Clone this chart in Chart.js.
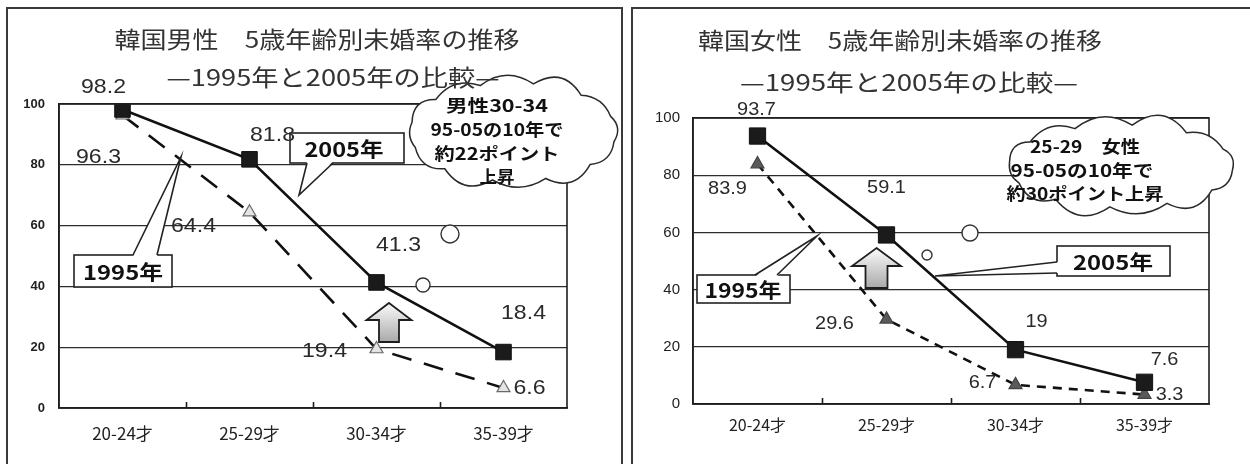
<!DOCTYPE html>
<html>
<head>
<meta charset="utf-8">
<script src="https://cdn.jsdelivr.net/npm/chart.js@4/dist/chart.umd.min.js"></script>
<style>
  html, body { margin: 0; padding: 0; background: #fff; }
  body { position: relative; width: 1250px; height: 464px; overflow: hidden; }
  .panel { position: absolute; border: 2px solid #3a3a3a; border-bottom: none; }
  #panelMale { left: 6px; top: 7px; width: 613px; height: 460px; }
  #panelFemale { left: 631px; top: 7px; width: 640px; height: 460px; border-right: none; }
  canvas { position: absolute; left: 0; top: 0; }
</style>
</head>
<body>
<div class="panel" id="panelMale"></div>
<div class="panel" id="panelFemale"></div>
<canvas id="male" width="1250" height="464"></canvas>
<canvas id="female" width="1250" height="464"></canvas>
<script>
// Age groups on the category axis
const ageGroups = ['20-24才', '25-29才', '30-34才', '35-39才'];
// Value axis ticks (percent never married)
const yTickValues = [0, 20, 40, 60, 80, 100];

// Korea, men: never-married rate by 5-year age group
const male2005 = [98.2, 81.8, 41.3, 18.4];
const male1995 = [96.3, 64.4, 19.4, 6.6];

// Korea, women: never-married rate by 5-year age group
const female2005 = [93.7, 59.1, 19, 7.6];
const female1995 = [83.9, 29.6, 6.7, 3.3];

// Titles and callout texts
const maleTitle = ['韓国男性　5歳年齢別未婚率の推移', '—1995年と2005年の比較—'];
const femaleTitle = ['韓国女性　5歳年齢別未婚率の推移', '—1995年と2005年の比較—'];
const maleNote = ['男性30-34', '95-05の10年で', '約22ポイント', '上昇'];
const femaleNote = ['25-29　女性', '95-05の10年で', '約30ポイント上昇'];
const yearLabels = ['2005年', '1995年'];

const CJK = '"Noto Sans CJK JP", "Noto Sans", sans-serif';
const SANS = '"Liberation Sans", Arial, sans-serif';

// text drawn centred, optionally squeezed/stretched to a given width
function drawText(ctx, s, x, y, font, opts) {
  opts = opts || {};
  ctx.save();
  ctx.font = font;
  const w = ctx.measureText(s).width;
  const sx = opts.width ? opts.width / w : (opts.sx || 1);
  ctx.translate(x, y);
  ctx.scale(sx, 1);
  ctx.fillStyle = opts.color || '#222';
  ctx.textAlign = 'center';
  ctx.textBaseline = 'middle';
  ctx.fillText(s, 0, 0);
  ctx.restore();
}

// rectangular callout with a wedge pointer
function callout(ctx, c) {
  ctx.save();
  ctx.lineWidth = 1.6;
  ctx.strokeStyle = '#222';
  ctx.fillStyle = '#fff';
  ctx.fillRect(c.x0, c.y0, c.x1 - c.x0, c.y1 - c.y0);
  ctx.strokeRect(c.x0, c.y0, c.x1 - c.x0, c.y1 - c.y0);
  const [a, b] = c.base;
  // fill wedge, pushed slightly into the box to hide the border between base points
  ctx.beginPath();
  ctx.moveTo(a[0] + c.inset[0], a[1] + c.inset[1]);
  ctx.lineTo(c.tip[0], c.tip[1]);
  ctx.lineTo(b[0] + c.inset[0], b[1] + c.inset[1]);
  ctx.closePath();
  ctx.fill();
  ctx.beginPath();
  ctx.moveTo(a[0], a[1]);
  ctx.lineTo(c.tip[0], c.tip[1]);
  ctx.lineTo(b[0], b[1]);
  ctx.stroke();
  drawText(ctx, c.text, c.tx, c.ty, 'bold 20px ' + CJK, { width: c.tw, color: '#111' });
  ctx.restore();
}

// hollow up arrow with a grey shade
function upArrow(ctx, a) {
  ctx.save();
  const g = ctx.createLinearGradient(0, a.tip, 0, a.bottom);
  g.addColorStop(0, '#fbfbfb');
  g.addColorStop(1, '#a9a9a9');
  ctx.beginPath();
  ctx.moveTo(a.x, a.tip);
  ctx.lineTo(a.x + a.head, a.neck);
  ctx.lineTo(a.x + a.shaft, a.neck);
  ctx.lineTo(a.x + a.shaft, a.bottom);
  ctx.lineTo(a.x - a.shaft, a.bottom);
  ctx.lineTo(a.x - a.shaft, a.neck);
  ctx.lineTo(a.x - a.head, a.neck);
  ctx.closePath();
  ctx.fillStyle = g;
  ctx.fill();
  ctx.lineWidth = 1.8;
  ctx.strokeStyle = '#1e1e1e';
  ctx.stroke();
  ctx.restore();
}

// thought cloud built from bumps around an ellipse
function cloud(ctx, c) {
  ctx.save();
  ctx.beginPath();
  const n = c.n;
  for (let i = 0; i < n; i++) {
    const t0 = c.phase + 2 * Math.PI * i / n;
    const t1 = c.phase + 2 * Math.PI * (i + 1) / n;
    const p0 = [c.cx + c.rx * Math.cos(t0), c.cy + c.ry * Math.sin(t0)];
    const p1 = [c.cx + c.rx * Math.cos(t1), c.cy + c.ry * Math.sin(t1)];
    if (i === 0) ctx.moveTo(p0[0], p0[1]);
    const tm = (t0 + t1) / 2;
    let nx = Math.cos(tm) / c.rx, ny = Math.sin(tm) / c.ry;
    const nl = Math.hypot(nx, ny); nx /= nl; ny /= nl;
    const L = Math.hypot(p1[0] - p0[0], p1[1] - p0[1]);
    const k = c.bulge * (1 + 0.25 * Math.sin(i * 2.3));
    const mx = (p0[0] + p1[0]) / 2 + nx * L * k;
    const my = (p0[1] + p1[1]) / 2 + ny * L * k;
    ctx.quadraticCurveTo(mx, my, p1[0], p1[1]);
  }
  ctx.closePath();
  ctx.fillStyle = '#fff';
  ctx.fill();
  ctx.lineWidth = 1.5;
  ctx.strokeStyle = '#2a2a2a';
  ctx.stroke();
  c.lines.forEach((s, i) => {
    drawText(ctx, s, c.textX[i], c.textY[i], 'bold 17px ' + CJK, { width: c.textW[i], color: '#111' });
  });
  ctx.restore();
}

function bubble(ctx, x, y, r) {
  ctx.save();
  ctx.beginPath();
  ctx.arc(x, y, r, 0, Math.PI * 2);
  ctx.fillStyle = '#fff';
  ctx.fill();
  ctx.lineWidth = 1.4;
  ctx.strokeStyle = '#333';
  ctx.stroke();
  ctx.restore();
}

// decoration plugin: plot frame, inner ticks, callouts, titles, value labels
function decorPlugin(d) {
  return {
    id: 'decor_' + d.key,
    afterDatasetsDraw(chart) {
      const ctx = chart.ctx;
      const ca = chart.chartArea;
      const xs = chart.scales.x;
      ctx.save();
      ctx.strokeStyle = '#1e1e1e';
      ctx.lineWidth = 1.6;
      ctx.strokeRect(ca.left, ca.top, ca.right - ca.left, ca.bottom - ca.top);
      // small upward ticks on the category boundaries
      for (let i = 1; i < ageGroups.length; i++) {
        const x = Math.round(xs.getPixelForValue(i - 0.5)) + 0.5;
        ctx.beginPath();
        ctx.moveTo(x, ca.bottom);
        ctx.lineTo(x, ca.bottom - 6);
        ctx.stroke();
      }
      ctx.restore();
    },
    afterDraw(chart) {
      const ctx = chart.ctx;
      d.callouts.forEach(c => callout(ctx, c));
      upArrow(ctx, d.arrow);
      d.bubbles.forEach(b => bubble(ctx, b[0], b[1], b[2]));
      cloud(ctx, d.cloud);
      d.title.forEach((s, i) => {
        drawText(ctx, s, d.titlePos[i][0], d.titlePos[i][1], '23px ' + CJK,
          { width: d.titlePos[i][2], color: '#333' });
      });
      // value labels next to the markers
      chart.data.datasets.forEach((ds, di) => {
        const meta = chart.getDatasetMeta(di);
        meta.data.forEach((pt, j) => {
          const off = d.labelOffsets[di][j];
          drawText(ctx, String(ds.data[j]), pt.x + off[0], pt.y + off[1],
            d.labelFont, { sx: d.labelSx, color: '#2a2a2a' });
        });
      });
    }
  };
}

function makeChart(id, d) {
  return new Chart(document.getElementById(id), {
    type: 'line',
    data: {
      labels: ageGroups,
      datasets: [
        {
          label: '2005年',
          data: d.v2005,
          borderColor: '#111',
          borderWidth: 2.6,
          pointStyle: 'rect',
          pointRadius: d.squareRadius,
          pointBackgroundColor: '#1b1b1b',
          pointBorderColor: '#111',
          pointBorderWidth: 1,
          tension: 0,
          fill: false
        },
        {
          label: '1995年',
          data: d.v1995,
          borderColor: '#111',
          borderWidth: 2.6,
          borderDash: d.dash,
          pointStyle: 'triangle',
          pointRadius: 7.5,
          pointBackgroundColor: d.triFill,
          pointBorderColor: d.triLine,
          pointBorderWidth: 1.2,
          tension: 0,
          fill: false
        }
      ]
    },
    options: {
      responsive: false,
      animation: false,
      devicePixelRatio: 1,
      layout: { padding: d.padding },
      plugins: { legend: { display: false }, tooltip: { enabled: false } },
      scales: {
        x: {
          type: 'category',
          offset: true,
          grid: { display: false, drawTicks: false },
          border: { display: true, color: '#1e1e1e', width: 1.6 },
          ticks: {
            padding: d.xPad,
            color: '#222',
            font: { family: CJK, size: d.xFont, weight: 'normal' }
          },
          afterFit(s) { s.height = d.xHeight; }
        },
        y: {
          min: 0,
          max: 100,
          afterBuildTicks(s) { s.ticks = yTickValues.map(v => ({ value: v })); },
          grid: { color: '#2c2c2c', lineWidth: 1.3, drawTicks: false },
          border: { display: true, color: '#1e1e1e', width: 1.6 },
          ticks: {
            padding: d.yPad,
            color: '#222',
            font: { family: SANS, size: d.yFont, weight: d.yWeight }
          },
          afterFit(s) { s.width = d.yWidth; }
        }
      }
    },
    plugins: [decorPlugin(d)]
  });
}

makeChart('male', {
  key: 'male',
  v2005: male2005,
  v1995: male1995,
  squareRadius: 11,
  dash: [20, 13],
  triFill: '#e4e4e4',
  triLine: '#6a6a6a',
  padding: { left: 0, right: 683, top: 104, bottom: 14 },
  yWidth: 59, yPad: 14, yFont: 13, yWeight: 'bold',
  xHeight: 42, xPad: 15, xFont: 17,
  labelFont: '21px ' + SANS, labelSx: 1.1,
  labelOffsets: [
    [[-19, -22], [23, -24], [22, -37], [20, -39]],
    [[-24, 42], [-56, 14], [-52, 2], [26, 0]]
  ],
  title: maleTitle,
  titlePos: [[317, 39, 405], [333, 77, 333]],
  callouts: [
    { x0: 290, y0: 133, x1: 404, y1: 163, base: [[307, 163], [333, 163]], inset: [0, -1.5],
      tip: [299, 195], text: yearLabels[0], tx: 344, ty: 149, tw: 79 },
    { x0: 74, y0: 255, x1: 172, y1: 287, base: [[133, 255], [157, 255]], inset: [0, 1.5],
      tip: [181, 157], text: yearLabels[1], tx: 123, ty: 272, tw: 80 }
  ],
  arrow: { x: 389, tip: 303, neck: 320, head: 22.5, shaft: 10, bottom: 342 },
  bubbles: [[450, 234, 9], [423, 285, 7]],
  cloud: { cx: 513, cy: 132, rx: 103, ry: 49, n: 12, phase: 0.2, bulge: 0.4,
    lines: maleNote, textX: [497, 497, 497, 497], textY: [106, 130, 154, 177],
    textW: [102, 133, 125, 35] }
});

makeChart('female', {
  key: 'female',
  v2005: female2005,
  v1995: female1995,
  squareRadius: 11.5,
  dash: [9, 7],
  triFill: '#5a5a5a',
  triLine: '#444',
  padding: { left: 640, right: 41, top: 118, bottom: 14 },
  yWidth: 53, yPad: 13, yFont: 15, yWeight: 'normal',
  xHeight: 46, xPad: 11, xFont: 16,
  labelFont: '19px ' + SANS, labelSx: 1.05,
  labelOffsets: [
    [[-1, -26], [0, -47], [21, -28], [20, -22]],
    [[-30, 25], [-52, 4], [-33, -2], [25, 0]]
  ],
  title: femaleTitle,
  titlePos: [[900, 40, 404], [909, 82, 338]],
  callouts: [
    { x0: 1057, y0: 246, x1: 1170, y1: 276, base: [[1057, 262], [1057, 273]], inset: [1.5, 0],
      tip: [935, 276], text: yearLabels[0], tx: 1113, ty: 262, tw: 80 },
    { x0: 697, y0: 275, x1: 790, y1: 303, base: [[755, 275], [777, 275]], inset: [0, 1.5],
      tip: [817, 236], text: yearLabels[1], tx: 743, ty: 290, tw: 77 }
  ],
  arrow: { x: 876.5, tip: 248, neck: 266, head: 24.5, shaft: 11, bottom: 288 },
  bubbles: [[970, 233, 8], [927, 255, 5]],
  cloud: { cx: 1121, cy: 166, rx: 112, ry: 41, n: 12, phase: 0.1, bulge: 0.4,
    lines: femaleNote, textX: [1085, 1082, 1085], textY: [147, 171, 194],
    textW: [110, 143, 157] }
});
</script>
</body>
</html>
